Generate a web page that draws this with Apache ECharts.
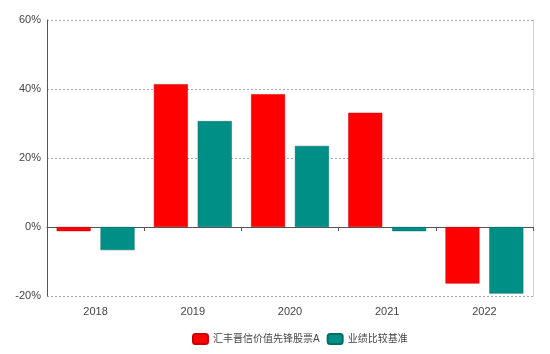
<!DOCTYPE html>
<html>
<head>
<meta charset="utf-8">
<script src="https://cdn.jsdelivr.net/npm/echarts@6/dist/echarts.min.js"></script>
<style>
  html, body { margin: 0; padding: 0; background: #fff; }
  #main { width: 550px; height: 354px; }
</style>
</head>
<body>
<div id="main"></div>
<script type="text/javascript">
// 数据
var years = ['2018', '2019', '2020', '2021', '2022'];
var fundName = '汇丰晋信价值先锋股票A';
var benchName = '业绩比较基准';
var fundData = [-1.2, 41.4, 38.5, 33.1, -16.4];
var benchData = [-6.7, 30.7, 23.5, -1.2, -19.3];
var yTicks = { min: -20, max: 60, interval: 20 };

var chart = echarts.init(document.getElementById('main'));
var font = 'Arial, "Liberation Sans", "Noto Sans CJK SC", sans-serif';

var option = {
    animation: false,
    backgroundColor: '#fff',
    textStyle: { fontFamily: font },
    grid: { left: 47, right: 17, top: 20, bottom: 58 },
    legend: {
        data: [fundName, benchName],
        bottom: 4,
        left: 187,
        itemWidth: 15,
        itemHeight: 10,
        itemGap: 7,
        textStyle: { color: '#444', fontSize: 10, fontFamily: font }
    },
    xAxis: [{
        type: 'category',
        data: years,
        position: 'bottom',
        axisLine: { onZero: false, show: false },
        axisTick: { show: false },
        axisLabel: { color: '#444', fontSize: 11, margin: 10 }
    }, {
        type: 'category',
        data: years,
        position: 'top',
        axisLine: { onZero: true, lineStyle: { color: '#555', width: 1 } },
        axisTick: { show: true, inside: true, length: 4, lineStyle: { color: '#555' } },
        axisLabel: { show: false }
    }],
    yAxis: [{
        type: 'value',
        min: yTicks.min,
        max: yTicks.max,
        interval: yTicks.interval,
        axisLine: { show: true, lineStyle: { color: '#555' } },
        axisTick: { show: false },
        axisLabel: { formatter: '{value}%', color: '#444', fontSize: 11, margin: 6 },
        splitLine: { lineStyle: { color: '#aaa', type: [2, 2] } }
    }, {
        type: 'value',
        position: 'right',
        min: yTicks.min,
        max: yTicks.max,
        interval: yTicks.interval,
        axisLine: { show: true, lineStyle: { color: '#d0d0d0' } },
        axisTick: { show: false },
        axisLabel: { show: false },
        splitLine: { show: false }
    }],
    series: [{
        name: fundName,
        type: 'bar',
        data: fundData,
        barWidth: 34,
        barGap: '29%',
        itemStyle: { color: '#ff0000', borderColor: '#cc0000', borderWidth: 0.5 }
    }, {
        name: benchName,
        type: 'bar',
        data: benchData,
        barWidth: 34,
        itemStyle: { color: '#008f86', borderColor: '#006d66', borderWidth: 0.5 }
    }]
};
chart.setOption(option);
</script>
</body>
</html>
